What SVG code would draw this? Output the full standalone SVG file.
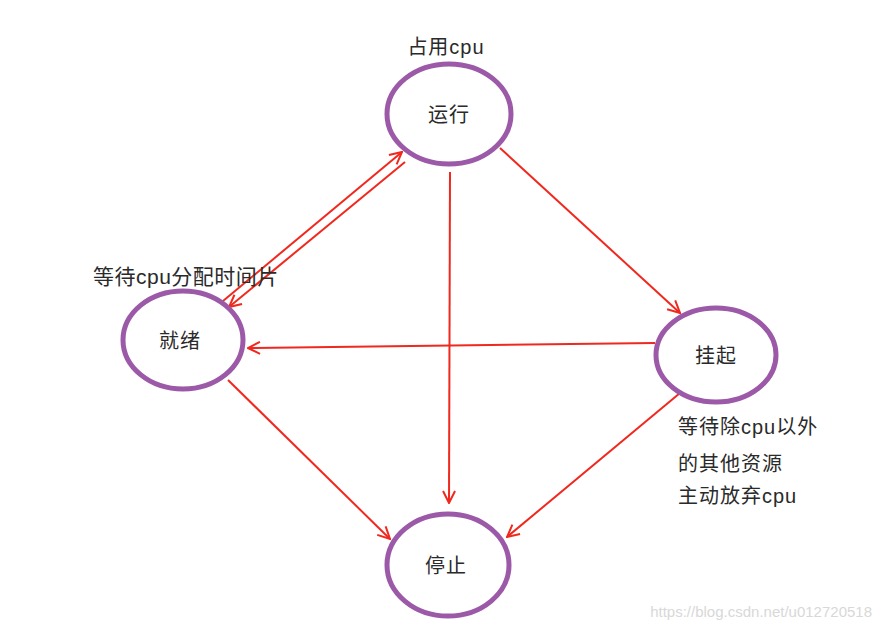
<svg xmlns="http://www.w3.org/2000/svg" width="882" height="630" viewBox="0 0 882 630">
<style>
.node ellipse{fill:#fff;stroke:#9b59a8;stroke-width:5}
.lbl{font-family:"Liberation Sans","Noto Sans CJK SC",sans-serif;font-size:20px;fill:#2a2a2a;letter-spacing:1px}
.c{text-anchor:middle}
.edge{stroke:#f0281e;stroke-width:2;fill:none;marker-end:url(#ah)}
.wm{font-family:"Liberation Sans",sans-serif;font-size:15px;fill:#d8d8d8}
</style>
<defs>
<marker id="ah" viewBox="0 0 14 14" refX="13" refY="7" markerWidth="14" markerHeight="14" markerUnits="userSpaceOnUse" orient="auto">
<path d="M1,1 L13,7 L1,13" fill="none" stroke="#f0281e" stroke-width="2"/>
</marker>
</defs>
<rect width="882" height="630" fill="#fff"/>
<g id="connectors">
<line class="edge" x1="223" y1="301" x2="402" y2="152"/>
<line class="edge" x1="405" y1="162" x2="229" y2="307"/>
<line class="edge" x1="450" y1="172" x2="449" y2="503"/>
<line class="edge" x1="500" y1="148" x2="680" y2="313"/>
<line class="edge" x1="655" y1="343" x2="248" y2="348"/>
<line class="edge" x1="680" y1="393" x2="507" y2="537"/>
<line class="edge" x1="228" y1="380" x2="390" y2="539"/>
</g>
<g id="run" class="node">
<ellipse cx="449" cy="114" rx="62" ry="50"/>
<text class="lbl c" x="449" y="122">运行</text>
</g>
<g id="ready" class="node">
<ellipse cx="183" cy="340" rx="60" ry="49"/>
<text class="lbl c" x="180" y="348">就绪</text>
</g>
<g id="suspend" class="node">
<ellipse cx="716" cy="355" rx="60" ry="47"/>
<text class="lbl c" x="716" y="363">挂起</text>
</g>
<g id="stop" class="node">
<ellipse cx="448" cy="565" rx="61" ry="51"/>
<text class="lbl c" x="446" y="573">停止</text>
</g>
<text class="lbl c" x="446" y="54">占用cpu</text>
<text class="lbl" x="93" y="284" style="font-size:21px;letter-spacing:0.5px">等待cpu分配时间片</text>
<text class="lbl" x="678" y="434">等待除cpu以外</text>
<text class="lbl" x="678" y="471">的其他资源</text>
<text class="lbl" x="678" y="503">主动放弃cpu</text>
<text class="wm" x="872" y="617" text-anchor="end">https://blog.csdn.net/u012720518</text>
</svg>
